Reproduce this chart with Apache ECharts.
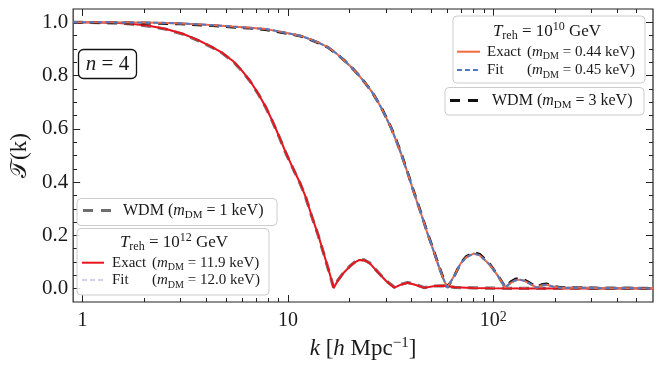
<!DOCTYPE html>
<html><head><meta charset="utf-8">
<script src="https://cdn.jsdelivr.net/npm/echarts@6/dist/echarts.min.js"></script>
<style>html,body{margin:0;padding:0;background:#fff}#c{width:662px;height:369px}</style>
</head><body><div id="c"></div>
<script>
// ---- data ----
const kA = [0.9, 1.2, 1.5, 1.76, 2.1, 2.55, 3.1, 3.7, 4.3, 4.8, 5.4, 6.0, 6.6, 7.2, 7.8, 8.4, 9.0, 9.7, 10.3, 10.9, 11.5, 12.2, 13.1, 14.0, 15.1, 16.0, 16.7, 17.5, 18.6, 20.0, 21.2, 22.3, 23.5, 25.0, 27.4, 30.0, 33.0, 35.5, 38.3, 42.0, 46.0, 52.0, 57.5, 65, 80, 100, 150, 250, 400, 600];
const exact12 = [1.000, 0.999, 0.997, 0.994, 0.987, 0.975, 0.956, 0.931, 0.906, 0.885, 0.855, 0.817, 0.776, 0.730, 0.682, 0.630, 0.577, 0.516, 0.472, 0.432, 0.394, 0.345, 0.270, 0.205, 0.121, 0.055, 0.003, 0.030, 0.058, 0.083, 0.099, 0.108, 0.107, 0.096, 0.062, 0.030, 0.004, 0.015, 0.022, 0.014, 0.003, 0.010, 0.011, 0.005, 0.003, 0.002, 0.001, 0.001, 0.001, 0.001];
const fit12 = [1.000, 0.999, 0.997, 0.994, 0.987, 0.975, 0.955, 0.931, 0.906, 0.885, 0.854, 0.816, 0.776, 0.730, 0.681, 0.630, 0.577, 0.516, 0.472, 0.431, 0.393, 0.344, 0.270, 0.205, 0.121, 0.055, 0.003, 0.030, 0.058, 0.083, 0.099, 0.108, 0.107, 0.096, 0.062, 0.030, 0.004, 0.015, 0.022, 0.014, 0.003, 0.010, 0.011, 0.005, 0.003, 0.002, 0.001, 0.001, 0.001, 0.001];
const wdm1 = [1.000, 0.999, 0.997, 0.993, 0.986, 0.974, 0.955, 0.930, 0.905, 0.884, 0.854, 0.816, 0.775, 0.729, 0.681, 0.629, 0.576, 0.515, 0.471, 0.431, 0.393, 0.344, 0.269, 0.204, 0.120, 0.054, 0.004, 0.031, 0.059, 0.084, 0.100, 0.109, 0.108, 0.097, 0.063, 0.031, 0.005, 0.016, 0.023, 0.015, 0.004, 0.010, 0.011, 0.005, 0.003, 0.002, 0.001, 0.001, 0.001, 0.001];

const kB = [0.9, 1.3, 1.76, 2.4, 3.0, 4.0, 5.36, 6.5, 7.77, 9.0, 10.45, 11.68, 13.06, 14.3, 15.73, 17.3, 18.9, 20.4, 21.95, 23.7, 25.5, 27.0, 28.5, 30.1, 31.8, 33.6, 35.5, 38.5, 41.2, 44.5, 47.8, 51.0, 54.4, 57.0, 59.7, 62.0, 65.0, 69.3, 74.0, 80.3, 86.0, 91.0, 96.7, 105, 114.3, 122, 128, 135, 141, 148, 162.5, 172, 181.6, 195, 215, 260, 330, 450, 600];
const exact10 = [1.000, 1.000, 0.999, 0.998, 0.996, 0.991, 0.984, 0.980, 0.975, 0.966, 0.956, 0.948, 0.934, 0.922, 0.906, 0.882, 0.856, 0.831, 0.805, 0.774, 0.742, 0.711, 0.679, 0.642, 0.604, 0.558, 0.509, 0.429, 0.358, 0.282, 0.208, 0.146, 0.082, 0.040, 0.004, 0.025, 0.052, 0.094, 0.118, 0.132, 0.125, 0.108, 0.088, 0.050, 0.005, 0.022, 0.031, 0.034, 0.030, 0.022, 0.004, 0.012, 0.015, 0.008, 0.003, 0.004, 0.002, 0.002, 0.001];
const fit10 = [1.000, 1.000, 0.999, 0.998, 0.996, 0.991, 0.984, 0.979, 0.975, 0.966, 0.956, 0.948, 0.934, 0.921, 0.905, 0.882, 0.856, 0.830, 0.805, 0.774, 0.742, 0.711, 0.679, 0.642, 0.604, 0.558, 0.509, 0.429, 0.358, 0.283, 0.209, 0.146, 0.082, 0.040, 0.004, 0.025, 0.052, 0.094, 0.118, 0.132, 0.125, 0.108, 0.088, 0.050, 0.005, 0.022, 0.031, 0.034, 0.030, 0.022, 0.004, 0.012, 0.015, 0.008, 0.003, 0.004, 0.002, 0.002, 0.001];
const wdm3 = [1.000, 0.999, 0.998, 0.996, 0.994, 0.989, 0.982, 0.978, 0.973, 0.964, 0.955, 0.947, 0.933, 0.921, 0.905, 0.881, 0.856, 0.831, 0.805, 0.774, 0.742, 0.711, 0.680, 0.643, 0.605, 0.560, 0.511, 0.431, 0.360, 0.284, 0.210, 0.148, 0.084, 0.042, 0.005, 0.024, 0.052, 0.095, 0.121, 0.136, 0.129, 0.111, 0.090, 0.051, 0.006, 0.026, 0.036, 0.039, 0.034, 0.025, 0.006, 0.015, 0.018, 0.010, 0.004, 0.004, 0.002, 0.002, 0.001];

const xMajorTicks = [1, 10, 100];
const xMinorTicks = [2, 3, 4, 5, 6, 7, 8, 9, 20, 30, 40, 50, 60, 70, 80, 90, 200, 300, 400, 500];
const yMajorTicks = [0, 0.2, 0.4, 0.6, 0.8, 1.0];
const yMinorTicks = [0.05, 0.1, 0.15, 0.25, 0.3, 0.35, 0.45, 0.5, 0.55, 0.65, 0.7, 0.75, 0.85, 0.9, 0.95];
const xMin = 0.9, xMax = 600, yMin = -0.05, yMax = 1.05;

// ---- styling ----
const F = 'Liberation Serif';
const TXT = '#1a1a1a';
const FRAME = '#222';
const L10 = Math.log10;
function pairs(k, v) { return k.map((x, i) => [x, v[i]]); }
function rich(sz) {
  const s = Math.round(sz * 0.68);
  return {
    r: { fontFamily: F, fontSize: sz, color: TXT, lineHeight: sz + 4 },
    i: { fontFamily: F, fontSize: sz, color: TXT, fontStyle: 'italic', lineHeight: sz + 4 },
    sub: { fontFamily: F, fontSize: s, color: TXT, verticalAlign: 'bottom', lineHeight: s + 1 },
    sup: { fontFamily: F, fontSize: s, color: TXT, verticalAlign: 'top', lineHeight: s + 1 },
    lab: { fontFamily: F, fontSize: sz, color: TXT, width: 40, lineHeight: sz + 4 }
  };
}
function hidden(extra) {
  return Object.assign({
    axisLine: { show: false, onZero: false }, splitLine: { show: false }, axisLabel: { show: false }
  }, extra);
}

const chart = echarts.init(document.getElementById('c'), null, { renderer: 'canvas' });

const graphic = [];
function box(x, y, w, h) {
  graphic.push({ type: 'rect', z: 100, shape: { x: x, y: y, width: w, height: h, r: 4 },
    style: { fill: 'rgba(255,255,255,0.85)', stroke: '#cccccc', lineWidth: 1 } });
}
function sample(x1, x2, y, color, width, dash) {
  graphic.push({ type: 'line', z: 101, shape: { x1: x1, y1: y, x2: x2, y2: y },
    style: { stroke: color, lineWidth: width, lineDash: dash || null } });
}
function text(x, y, str, sz, align) {
  graphic.push({ type: 'text', z: 102, style: { x: x, y: y, text: str, align: align || 'left', verticalAlign: 'middle',
    fontFamily: F, fontSize: sz, fill: TXT, rich: rich(sz) } });
}

// legend: T_reh = 10^10
box(453, 16, 192, 67);
text(547, 31.5, '{i|T}{sub|reh}{r| = 10}{sup|10}{r| GeV}', 17, 'center');
sample(457, 480, 51.7, '#f4693f', 2);
text(487, 52, '{lab|Exact}{r|(}{i|m}{sub|DM}{r| = 0.44 keV)}', 15);
sample(457, 480, 70, '#5579c1', 2, [5, 3]);
text(487, 70.5, '{lab|Fit}{r|(}{i|m}{sub|DM}{r| = 0.45 keV)}', 15);
// legend: WDM 3 keV
box(445, 87.5, 199, 27.5);
sample(450, 482, 100.5, '#111111', 3, [10, 8]);
text(492, 101, '{r|WDM (}{i|m}{sub|DM}{r| = 3 keV)}', 16);
// legend: WDM 1 keV
box(77, 198.5, 200, 27);
sample(83, 114, 210.5, '#6e6e6e', 3.2, [10, 8]);
text(123, 211, '{r|WDM (}{i|m}{sub|DM}{r| = 1 keV)}', 16);
// legend: T_reh = 10^12
box(77, 228.5, 192, 66.5);
text(174, 242.5, '{i|T}{sub|reh}{r| = 10}{sup|12}{r| GeV}', 17, 'center');
sample(82, 104, 262.7, '#e8141c', 2);
text(112, 263, '{lab|Exact}{r|(}{i|m}{sub|DM}{r| = 11.9 keV)}', 15);
sample(82, 104, 280, '#c2c2f2', 1.6, [5, 3]);
text(112, 280.5, '{lab|Fit}{r|(}{i|m}{sub|DM}{r| = 12.0 keV)}', 15);
// n = 4 box
graphic.push({ type: 'rect', z: 100, shape: { x: 78.5, y: 49.5, width: 58, height: 29, r: 5 },
  style: { fill: '#ffffff', stroke: '#111111', lineWidth: 1.3 } });
text(107.5, 64.5, '{i|n}{r| = 4}', 21, 'center');

const tickStyle = { color: FRAME, width: 1 };
const option = {
  animation: false,
  backgroundColor: '#ffffff',
  grid: { left: 70, top: 9, width: 583, height: 293, show: true, borderColor: FRAME, borderWidth: 1.2, backgroundColor: 'transparent' },
  xAxis: [
    { type: 'log', logBase: 10, min: xMin, max: xMax, position: 'bottom',
      axisLine: { show: false, onZero: false }, splitLine: { show: false }, minorTick: { show: false },
      axisTick: { show: true, inside: true, length: 7, lineStyle: tickStyle },
      axisLabel: { show: true, margin: 8, color: TXT, fontFamily: F, fontSize: 20, showMinLabel: false, showMaxLabel: false,
        formatter: function (v) {
          if (Math.abs(v - 1) < 1e-6) return '{b|1}';
          if (Math.abs(v - 10) < 1e-5) return '{b|10}';
          if (Math.abs(v - 100) < 1e-4) return '{b|10}{sup|2}';
          return '';
        },
        rich: { b: { fontFamily: F, fontSize: 20, color: TXT, lineHeight: 22 },
                sup: { fontFamily: F, fontSize: 14, color: TXT, verticalAlign: 'top', lineHeight: 14 } } },
      name: '{i|k}{r| [}{i|h}{r| Mpc}{sup|−1}{r|]}', nameLocation: 'middle', nameGap: 33,
      nameTextStyle: { fontFamily: F, fontSize: 23, color: TXT, rich: {
        r: { fontFamily: F, fontSize: 23, color: TXT, lineHeight: 26 },
        i: { fontFamily: F, fontSize: 23, color: TXT, fontStyle: 'italic', lineHeight: 26 },
        sup: { fontFamily: F, fontSize: 15, color: TXT, verticalAlign: 'top', lineHeight: 15 } } } },
    hidden({ type: 'value', min: L10(xMin), max: L10(xMax), position: 'bottom',
      axisTick: { show: true, inside: true, length: 4, lineStyle: tickStyle, customValues: xMinorTicks.map(L10) } }),
    hidden({ type: 'value', min: L10(xMin), max: L10(xMax), position: 'top',
      axisTick: { show: true, inside: true, length: 7, lineStyle: tickStyle, customValues: xMajorTicks.map(L10) } }),
    hidden({ type: 'value', min: L10(xMin), max: L10(xMax), position: 'top',
      axisTick: { show: true, inside: true, length: 4, lineStyle: tickStyle, customValues: xMinorTicks.map(L10) } })
  ],
  yAxis: [
    { type: 'value', min: yMin, max: yMax, position: 'left',
      axisLine: { show: false, onZero: false }, splitLine: { show: false },
      axisTick: { show: true, inside: true, length: 7, lineStyle: tickStyle, customValues: yMajorTicks },
      axisLabel: { show: true, customValues: yMajorTicks, margin: 5, color: TXT, fontFamily: F, fontSize: 21,
        formatter: function (v) { return v.toFixed(1); } },
      name: '𝒯(k)', nameLocation: 'middle', nameGap: 40, nameRotate: 90,
      nameTextStyle: { fontFamily: F, fontSize: 23, color: TXT } },
    hidden({ type: 'value', min: yMin, max: yMax, position: 'left',
      axisTick: { show: true, inside: true, length: 4, lineStyle: tickStyle, customValues: yMinorTicks } }),
    hidden({ type: 'value', min: yMin, max: yMax, position: 'right',
      axisTick: { show: true, inside: true, length: 7, lineStyle: tickStyle, customValues: yMajorTicks } }),
    hidden({ type: 'value', min: yMin, max: yMax, position: 'right',
      axisTick: { show: true, inside: true, length: 4, lineStyle: tickStyle, customValues: yMinorTicks } })
  ],
  series: [
    { name: 'WDM (m_DM = 1 keV)', type: 'line', data: pairs(kA, wdm1), symbol: 'none', showSymbol: false,
      lineStyle: { color: '#6e6e6e', width: 3.2, type: [10, 7] }, z: 2 },
    { name: 'Fit (m_DM = 12.0 keV)', type: 'line', data: pairs(kA, fit12), symbol: 'none', showSymbol: false,
      lineStyle: { color: '#c2c2f2', width: 1.6, type: [5, 3] }, z: 2 },
    { name: 'Exact (m_DM = 11.9 keV)', type: 'line', data: pairs(kA, exact12), symbol: 'none', showSymbol: false,
      lineStyle: { color: '#e8141c', width: 2 }, z: 2 },
    { name: 'WDM (m_DM = 3 keV)', type: 'line', data: pairs(kB, wdm3), symbol: 'none', showSymbol: false,
      lineStyle: { color: '#111111', width: 2.8, type: [10, 7] }, z: 2 },
    { name: 'Exact (m_DM = 0.44 keV)', type: 'line', data: pairs(kB, exact10), symbol: 'none', showSymbol: false,
      lineStyle: { color: '#f4693f', width: 2 }, z: 2 },
    { name: 'Fit (m_DM = 0.45 keV)', type: 'line', data: pairs(kB, fit10), symbol: 'none', showSymbol: false,
      lineStyle: { color: '#5579c1', width: 2, type: [5, 3] }, z: 2 }
  ],
  graphic: graphic
};
chart.setOption(option);
</script>
</body></html>
